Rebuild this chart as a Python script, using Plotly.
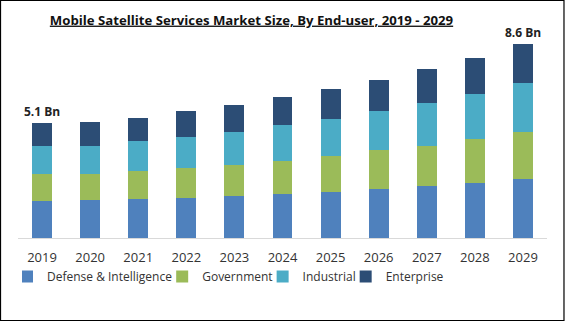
import plotly.graph_objects as go

years = ["2019", "2020", "2021", "2022", "2023", "2024", "2025", "2026", "2027", "2028", "2029"]
defense = [1.64, 1.66, 1.71, 1.77, 1.87, 1.96, 2.05, 2.18, 2.31, 2.44, 2.62]
government = [1.18, 1.19, 1.25, 1.31, 1.37, 1.46, 1.59, 1.70, 1.76, 1.95, 2.07]
industrial = [1.24, 1.24, 1.31, 1.37, 1.47, 1.56, 1.64, 1.73, 1.90, 1.97, 2.17]
enterprise = [1.03, 1.06, 1.06, 1.15, 1.18, 1.24, 1.33, 1.40, 1.50, 1.62, 1.74]
series_names = ["Defense & Intelligence", "Government", "Industrial", "Enterprise"]
colors = ["#4F81BD", "#9BBB59", "#4BACC6", "#2C4D75"]
label_years = ["2019", "2029"]
label_texts = ["5.1 Bn", "8.6 Bn"]

W, H = 565, 322
L, R, T, B = 18, 17.5, 35, 84
YMAX = 8.98

fig = go.Figure()
for name, vals, col in zip(series_names, [defense, government, industrial, enterprise], colors):
    fig.add_trace(go.Bar(x=years, y=vals, name=name, marker=dict(color=col, line=dict(width=0))))

totals = [sum(v) for v in zip(defense, government, industrial, enterprise)]
for yr, txt in zip(label_years, label_texts):
    i = years.index(yr)
    fig.add_annotation(x=i, y=totals[i], xref="x", yref="y", text="<b>" + txt + "</b>",
                       showarrow=False, yanchor="bottom", yshift=1,
                       font=dict(family="Open Sans", size=12, color="#222222"))

pw = W - L - R
ph = H - T - B
def px_x(p):
    return (p - L) / pw
def px_y(p):
    return (H - B - p) / ph

fig.add_shape(type="rect", xref="paper", yref="paper",
              x0=px_x(0.5), x1=px_x(564.5), y0=px_y(0.5), y1=px_y(320.5),
              line=dict(color="black", width=1.2), fillcolor="rgba(0,0,0,0)")

fig.update_layout(
    width=W, height=H,
    margin=dict(l=L, r=R, t=T, b=B),
    barmode="stack", bargap=0.585,
    paper_bgcolor="white", plot_bgcolor="white",
    title=dict(text="<b><u>Mobile Satellite Services Market Size, By End-user, 2019 - 2029</u></b>",
               x=251.5 / W, xref="container", xanchor="center", y=1 - 20 / H, yref="container",
               yanchor="middle",
               font=dict(family="Open Sans", size=13.2, color="#111111")),
    xaxis=dict(type="category", showgrid=False, showline=True, linecolor="#D9D9D9", linewidth=1,
               ticks="", ticklabelstandoff=7,
               tickfont=dict(family="Open Sans", size=13, color="#333333"),
               range=[-0.5, 10.5]),
    yaxis=dict(showgrid=False, showline=False, showticklabels=False, zeroline=False,
               range=[0, YMAX]),
    legend=dict(orientation="h", x=px_x(22), xanchor="left", y=px_y(276.5), yanchor="middle",
                font=dict(family="Open Sans", size=12, color="#333333"),
                traceorder="normal", indentation=-15, itemwidth=30),
    showlegend=True,
)

fig.write_html("out.html")
